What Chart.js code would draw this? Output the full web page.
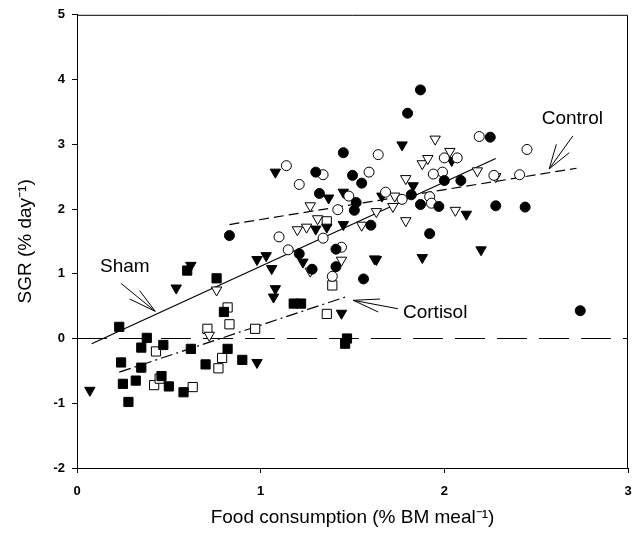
<!DOCTYPE html>
<html lang="en">
<head>
  <meta charset="UTF-8">
  <title>SGR vs food consumption</title>
  <script src="https://cdn.jsdelivr.net/npm/chart.js"></script>
  <style>
    html, body { margin: 0; padding: 0; background: white; }
    #wrap { width: 634px; height: 539px; }
  </style>
</head>
<body>
  <div id="wrap"><canvas id="grafico" width="634" height="539"></canvas></div>

  <script>
    // --- data ---
    const ctrlFilledX = [0.83, 1.45, 1.30, 1.50, 1.55, 1.32, 1.52, 1.51, 1.60, 1.21, 1.28, 1.41, 1.41, 1.56, 1.87, 1.80, 2.25, 2.00, 2.09, 1.82, 1.87, 1.97, 2.28, 2.44, 1.92, 2.74];
    const ctrlFilledY = [1.59, 2.87, 2.57, 2.52, 2.40, 2.24, 2.10, 1.98, 1.75, 1.31, 1.07, 1.38, 1.11, 0.92, 3.84, 3.48, 3.11, 2.44, 2.44, 2.22, 2.07, 2.04, 2.05, 2.03, 1.62, 0.43];

    const ctrlOpenX = [1.64, 1.14, 1.34, 1.59, 1.21, 1.48, 1.42, 1.10, 1.34, 1.15, 1.44, 1.39, 2.19, 2.45, 2.00, 2.07, 1.99, 1.94, 2.27, 2.41, 1.68, 1.77, 1.92, 1.93];
    const ctrlOpenY = [2.84, 2.67, 2.53, 2.57, 2.38, 2.20, 1.99, 1.57, 1.55, 1.37, 1.41, 0.96, 3.12, 2.92, 2.79, 2.79, 2.57, 2.54, 2.52, 2.53, 2.26, 2.15, 2.19, 2.09];

    const shamFilledX = [0.62, 0.54, 0.98, 1.03, 1.06, 1.08, 1.07, 0.98, 0.07, 1.08, 1.37, 1.45, 1.30, 1.36, 1.45, 1.23, 1.62, 1.44, 1.77, 2.04, 1.83, 1.66, 2.12, 1.63, 1.88, 2.20];
    const shamFilledY = [1.13, 0.78, 1.22, 1.28, 1.08, 0.77, 0.64, -0.37, -0.80, 2.57, 2.17, 2.26, 1.69, 1.72, 1.76, 1.18, 1.23, 0.39, 2.99, 2.75, 2.36, 2.20, 1.92, 1.22, 1.25, 1.37];

    const shamOpenX = [0.76, 0.72, 1.27, 1.63, 1.31, 1.20, 1.25, 1.55, 1.27, 1.44, 1.95, 2.03, 1.88, 1.91, 2.18, 2.28, 1.79, 1.73, 1.72, 2.06, 1.79];
    const shamOpenY = [0.75, 0.05, 2.05, 1.96, 1.85, 1.68, 1.72, 1.75, 1.04, 1.21, 3.08, 2.89, 2.70, 2.78, 2.59, 2.50, 2.47, 2.20, 2.04, 1.98, 1.82];

    const cortFilledX = [0.23, 0.60, 0.76, 0.80, 0.38, 0.35, 0.47, 0.62, 0.82, 0.24, 0.35, 0.70, 0.90, 0.32, 0.25, 0.46, 0.50, 0.58, 0.28, 1.18, 1.22, 1.47, 1.46];
    const cortFilledY = [0.18, 1.05, 0.93, 0.41, 0.01, -0.14, -0.10, -0.16, -0.16, -0.37, -0.45, -0.40, -0.33, -0.65, -0.70, -0.58, -0.74, -0.83, -0.98, 0.54, 0.54, 0.00, -0.08];

    const cortOpenX = [0.82, 0.83, 0.71, 0.97, 0.43, 0.79, 0.77, 0.42, 0.45, 0.63, 1.36, 1.39, 1.36];
    const cortOpenY = [0.48, 0.22, 0.15, 0.15, -0.20, -0.30, -0.46, -0.72, -0.62, -0.75, 1.81, 0.82, 0.38];

    // fitted lines (end points)
    const controlFitX = [0.83, 2.72], controlFitY = [1.76, 2.63];
    const shamFitX = [0.08, 2.28], shamFitY = [-0.08, 2.78];
    const cortFitX = [0.23, 1.47], cortFitY = [-0.52, 0.65];
    const zeroX = [0, 3], zeroY = [0, 0];

    const xTicks = [0, 1, 2, 3];
    const yTicks = [-2, -1, 0, 1, 2, 3, 4, 5];

    // labels with arrows (in data units)
    const labels = [
      { text: "Sham", x: 0.125, y: 1.11, tip: [0.426, 0.42], tail: [0.24, 0.85], barbs: [[0.287, 0.61], [0.341, 0.74]] },
      { text: "Cortisol", x: 1.775, y: 0.40, tip: [1.504, 0.59], tail: [1.747, 0.46], barbs: [[1.64, 0.41], [1.65, 0.61]] },
      { text: "Control", x: 2.53, y: 3.40, tip: [2.571, 2.62], tail: [2.70, 3.13], barbs: [[2.61, 3.00], [2.68, 2.87]] }
    ];

    const pts = (xs, ys) => xs.map((x, i) => ({ x: x, y: ys[i] }));
    const FONT = "'Liberation Sans', Arial, Helvetica, sans-serif";

    function scatterSet(label, xs, ys, style, filled, r, rot) {
      return {
        type: 'scatter', label: label, data: pts(xs, ys),
        pointStyle: style, pointRadius: r, pointRotation: rot || 0,
        pointBackgroundColor: filled ? '#000' : '#fff',
        pointBorderColor: '#000', pointBorderWidth: 1, order: 1
      };
    }
    function lineSet(label, xs, ys, dash, w) {
      return {
        type: 'line', label: label, data: pts(xs, ys),
        borderColor: '#000', borderWidth: w, borderDash: dash,
        pointRadius: 0, fill: false, order: 2
      };
    }

    // frame on top/right + arrow labels
    const extras = {
      id: 'extras',
      afterDatasetsDraw(chart) {
        const { ctx, chartArea: a, scales: { x, y } } = chart;
        const px = p => [x.getPixelForValue(p[0]), y.getPixelForValue(p[1])];
        ctx.save();
        ctx.strokeStyle = '#000';
        ctx.lineWidth = 1;
        ctx.beginPath();
        ctx.moveTo(a.left, a.top + 0.5);
        ctx.lineTo(a.right - 0.5, a.top + 0.5);
        ctx.lineTo(a.right - 0.5, a.bottom);
        ctx.stroke();

        ctx.fillStyle = '#000';
        ctx.font = "19px " + FONT;
        ctx.textBaseline = 'middle';
        ctx.textAlign = 'left';
        labels.forEach(l => {
          ctx.fillText(l.text, x.getPixelForValue(l.x), y.getPixelForValue(l.y));
          const tip = px(l.tip);
          [l.tail].concat(l.barbs).forEach(e => {
            const q = px(e);
            ctx.beginPath();
            ctx.moveTo(tip[0], tip[1]);
            ctx.lineTo(q[0], q[1]);
            ctx.stroke();
          });
        });
        ctx.restore();
      }
    };

    new Chart(document.getElementById("grafico").getContext("2d"), {
      data: {
        datasets: [
          lineSet('zero', zeroX, zeroY, [30, 12], 1),
          lineSet('Control fit', controlFitX, controlFitY, [10, 5], 1.2),
          lineSet('Sham fit', shamFitX, shamFitY, [], 1.2),
          lineSet('Cortisol fit', cortFitX, cortFitY, [12, 4, 2, 4], 1.2),
          scatterSet('Control 1', ctrlFilledX, ctrlFilledY, 'circle', true, 5),
          scatterSet('Control 2', ctrlOpenX, ctrlOpenY, 'circle', false, 5),
          scatterSet('Sham 1', shamFilledX, shamFilledY, 'triangle', true, 6, 180),
          scatterSet('Sham 2', shamOpenX, shamOpenY, 'triangle', false, 6, 180),
          scatterSet('Cortisol 1', cortFilledX, cortFilledY, 'rect', true, 6.5),
          scatterSet('Cortisol 2', cortOpenX, cortOpenY, 'rect', false, 6.5)
        ]
      },
      options: {
        responsive: false,
        animation: false,
        layout: { autoPadding: false, padding: { left: 0, right: 6, top: 14, bottom: 0 } },
        plugins: { legend: { display: false }, tooltip: { enabled: false } },
        scales: {
          x: {
            type: 'linear', min: 0, max: 3,
            afterBuildTicks: s => { s.ticks = xTicks.map(v => ({ value: v })); },
            afterFit: s => { s.height = 71; s.paddingLeft = 0; s.paddingRight = 0; },
            ticks: { color: '#000', padding: 11, maxRotation: 0, font: { family: FONT, size: 13, weight: 'bold' } },
            grid: { drawOnChartArea: false, tickLength: 5, color: '#000' },
            border: { color: '#000', width: 1 },
            title: { display: true, text: 'Food consumption (% BM meal\u207B\u00B9)', color: '#000',
                     font: { family: FONT, size: 19 }, padding: { top: 0, bottom: 10 } }
          },
          y: {
            type: 'linear', min: -2, max: 5,
            afterBuildTicks: s => { s.ticks = yTicks.map(v => ({ value: v })); },
            afterFit: s => { s.width = 77; },
            ticks: { color: '#000', padding: 7, font: { family: FONT, size: 13, weight: 'bold' } },
            grid: { drawOnChartArea: false, tickLength: 5, color: '#000' },
            border: { color: '#000', width: 1 },
            title: { display: true, text: 'SGR (% day\u207B\u00B9)', color: '#000',
                     font: { family: FONT, size: 19 }, padding: { top: 14, bottom: 0 } }
          }
        }
      },
      plugins: [extras]
    });
  </script>
</body>
</html>
